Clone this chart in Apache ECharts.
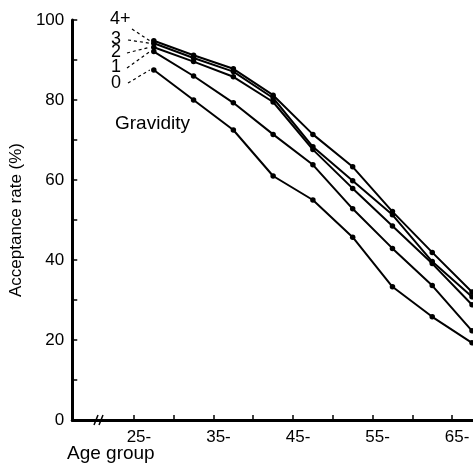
<!DOCTYPE html>
<html>
<head>
<meta charset="utf-8">
<script src="https://cdn.jsdelivr.net/npm/echarts@6/dist/echarts.min.js"></script>
<style>
  html, body { margin: 0; padding: 0; background: #fff; }
  #chart { width: 473px; height: 467px; }
</style>
</head>
<body>
<div id="chart"></div>
<script>
// age group midpoints (25-29 -> 27.5 ...)
var ageMid = [27.5, 32.5, 37.5, 42.5, 47.5, 52.5, 57.5, 62.5, 67.5];
var tickAges = [25, 30, 35, 40, 45, 50, 55, 60, 65];
var labelAges = [25, 35, 45, 55, 65];

var grav4 = [94.8, 91.2, 87.8, 81.2, 71.4, 63.3, 52.1, 41.9, 32.0];
var grav3 = [94.2, 90.5, 87.1, 80.5, 68.3, 59.8, 51.3, 39.6, 30.8];
var grav2 = [93.2, 89.6, 85.8, 79.5, 67.6, 57.9, 48.5, 39.1, 28.8];
var grav1 = [92.1, 86.0, 79.3, 71.4, 63.8, 52.8, 42.9, 33.6, 22.3];
var grav0 = [87.5, 80.0, 72.5, 61.0, 55.0, 45.7, 33.3, 25.8, 19.3];

var seriesNames = ['4+', '3', '2', '1', '0'];
var seriesVals = [grav4, grav3, grav2, grav1, grav0];

var FONT = '"Liberation Sans", Arial, sans-serif';

dom = echarts.init(document.getElementById('chart'));

option = {
  animation: false,
  grid: { left: 70, right: 0, top: 20, bottom: 47 },
  xAxis: {
    type: 'value',
    min: 17.25,
    max: 67.625,
    axisLine: { lineStyle: { color: '#000', width: 3 } },
    axisTick: {
      inside: true, length: 5,
      lineStyle: { color: '#000', width: 1.5 },
      customValues: tickAges
    },
    axisLabel: {
      customValues: labelAges,
      formatter: function (v) { return v + '-'; },
      color: '#000', fontFamily: FONT, fontSize: 17,
      margin: 9, padding: [0, 0, 0, 10]
    },
    splitLine: { show: false }
  },
  yAxis: {
    type: 'value',
    min: 0, max: 100, interval: 10,
    name: 'Acceptance rate (%)',
    nameLocation: 'middle',
    nameGap: 40,
    nameTextStyle: { color: '#000', fontFamily: FONT, fontSize: 17 },
    axisLine: { show: true, lineStyle: { color: '#000', width: 3 } },
    axisTick: { show: true, inside: true, length: 5, lineStyle: { color: '#000', width: 1.5 } },
    axisLabel: {
      formatter: function (v) { return v % 20 === 0 ? String(v) : ''; },
      color: '#000', fontFamily: FONT, fontSize: 17, margin: 8
    },
    splitLine: { show: false }
  },
  series: seriesVals.map(function (vals, i) {
    return {
      name: seriesNames[i],
      type: 'line',
      data: ageMid.map(function (a, j) { return [a, vals[j]]; }),
      symbol: 'circle',
      symbolSize: 5.5,
      itemStyle: { color: '#000' },
      lineStyle: { color: '#000', width: 2 }
    };
  })
};

dom.setOption(option);

// labels for gravidity with dashed leaders to first points
var labelPos = [[110, 20], [111, 40], [111, 53], [111, 68], [111, 84]];
var leaderStart = [[132, 29], [128, 40], [127, 53], [127, 68], [128, 83]];
var graphics = [];
seriesVals.forEach(function (vals, i) {
  var p = dom.convertToPixel({ gridIndex: 0 }, [ageMid[0], vals[0]]);
  graphics.push({
    type: 'text', left: labelPos[i][0], top: labelPos[i][1] - 10,
    style: { text: seriesNames[i], fill: '#000', font: '18px ' + FONT }
  });
  graphics.push({
    type: 'line',
    shape: { x1: leaderStart[i][0], y1: leaderStart[i][1], x2: p[0] - 4, y2: p[1] },
    style: { stroke: '#000', lineWidth: 1.2, lineDash: [3, 3] }
  });
});
graphics.push({
  type: 'text', left: 115, top: 114,
  style: { text: 'Gravidity', fill: '#000', font: '19px ' + FONT }
});
graphics.push({
  type: 'text', left: 67, top: 444,
  style: { text: 'Age group', fill: '#000', font: '19px ' + FONT }
});
// axis break mark
graphics.push({
  type: 'line', shape: { x1: 94, y1: 425, x2: 98, y2: 415 },
  style: { stroke: '#000', lineWidth: 1.5 }
});
graphics.push({
  type: 'line', shape: { x1: 99, y1: 425, x2: 103, y2: 415 },
  style: { stroke: '#000', lineWidth: 1.5 }
});
dom.setOption({ graphic: graphics });
</script>
</body>
</html>
